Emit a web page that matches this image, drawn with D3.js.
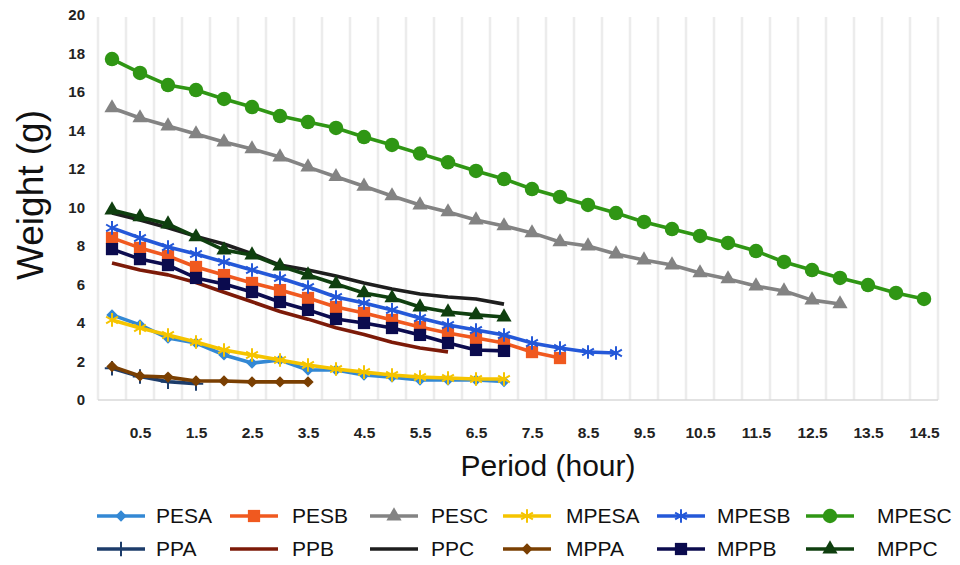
<!DOCTYPE html>
<html>
<head>
<meta charset="utf-8">
<title>Weight vs period</title>
<script src="https://cdn.jsdelivr.net/npm/d3@7"></script>
<style>
  body { margin: 0; background: #fff; }
  svg { display: block; }
  .tick text { font-family: "Liberation Sans Narrow", "Arial Narrow", "Liberation Sans", Arial, sans-serif; font-weight: bold; fill: #222; }
  .leg text { font-family: "Liberation Sans Narrow", "Arial Narrow", "Liberation Sans", Arial, sans-serif; font-size: 21px; fill: #111; }
</style>
</head>
<body>
<script>
// period categories (hours)
const periods = [0, 0.5, 1, 1.5, 2, 2.5, 3, 3.5, 4, 4.5, 5, 5.5, 6, 6.5, 7, 7.5, 8, 8.5, 9, 9.5,
                 10, 10.5, 11, 11.5, 12, 12.5, 13, 13.5, 14, 14.5];
const xTicks = [0.5, 1.5, 2.5, 3.5, 4.5, 5.5, 6.5, 7.5, 8.5, 9.5, 10.5, 11.5, 12.5, 13.5, 14.5];
const yTicks = [0, 2, 4, 6, 8, 10, 12, 14, 16, 18, 20];

// weights (g), one value per period
const PESA  = [4.42, 3.9, 3.22, 2.96, 2.34, 1.92, 2.08, 1.56, 1.56, 1.3, 1.19, 1.04, 1.04, 1.04, 0.96];
const PESB  = [8.42, 7.9, 7.48, 6.91, 6.49, 6.08, 5.71, 5.3, 4.83, 4.52, 4.16, 3.79, 3.48, 3.22, 2.96, 2.49, 2.18];
const PESC  = [15.17, 14.65, 14.23, 13.82, 13.4, 13.04, 12.62, 12.1, 11.6, 11.1, 10.6, 10.13, 9.77, 9.35, 9.04,
               8.68, 8.21, 8.0, 7.58, 7.27, 7.01, 6.6, 6.29, 5.92, 5.66, 5.19, 4.99];
const MPESA = [4.16, 3.74, 3.38, 3.01, 2.6, 2.34, 2.08, 1.82, 1.61, 1.45, 1.3, 1.19, 1.14, 1.09, 1.09];
const MPESB = [8.94, 8.42, 7.95, 7.58, 7.17, 6.75, 6.34, 5.87, 5.35, 5.04, 4.68, 4.26, 3.9, 3.64, 3.38, 2.96, 2.7, 2.49, 2.44];
const MPESC = [17.71, 16.99, 16.36, 16.1, 15.64, 15.22, 14.75, 14.44, 14.13, 13.66, 13.25, 12.8, 12.35, 11.9, 11.48,
               10.96, 10.55, 10.13, 9.71, 9.25, 8.88, 8.52, 8.16, 7.74, 7.17, 6.75, 6.34, 5.97, 5.56, 5.25];
const PPA   = [1.65, 1.22, 0.95, 0.85];
const PPB   = [7.12, 6.75, 6.5, 6.1, 5.6, 5.1, 4.6, 4.2, 3.75, 3.4, 3.0, 2.7, 2.5];
const PPC   = [9.71, 9.35, 8.95, 8.5, 8.1, 7.6, 7.01, 6.75, 6.44, 6.08, 5.77, 5.51, 5.35, 5.25, 4.98];
const MPPA  = [1.74, 1.25, 1.19, 0.99, 0.99, 0.94, 0.94, 0.94];
const MPPB  = [7.84, 7.32, 7.01, 6.34, 6.03, 5.61, 5.09, 4.68, 4.21, 4.0, 3.74, 3.38, 2.96, 2.6, 2.55];
const MPPC  = [9.87, 9.51, 9.14, 8.47, 7.79, 7.53, 6.96, 6.49, 6.03, 5.56, 5.3, 4.83, 4.57, 4.42, 4.31];

const seriesNames = ["PESA", "PESB", "PESC", "MPESA", "MPESB", "MPESC", "PPA", "PPB", "PPC", "MPPA", "MPPB", "MPPC"];
const seriesValues = [PESA, PESB, PESC, MPESA, MPESB, MPESC, PPA, PPB, PPC, MPPA, MPPB, MPPC];
const seriesColors = ["#3388d4", "#f0591f", "#838383", "#f5c400", "#2458d8", "#2f9614",
                      "#1d3c6a", "#7c1a08", "#1e1e1e", "#7a3f02", "#0b0b4e", "#0f3f0f"];
const seriesMarkers = ["diamond", "square", "triangle", "asterisk", "asterisk", "circle",
                       "plus", "none", "none", "diamond", "square", "triangle"];

const width = 960, height = 565;

const x = d3.scaleLinear().domain([0, 14.5]).range([112, 924]);
const y = d3.scaleLinear().domain([0, 20]).range([400, 15]);

const svg = d3.select("body").append("svg")
    .attr("width", width)
    .attr("height", height);

// vertical gridlines between categories
const step = periods[1] - periods[0];
const gridPos = periods.map(p => p - step / 2).concat([periods[periods.length - 1] + step / 2]);
svg.append("g").selectAll("line")
    .data(gridPos)
    .enter().append("line")
    .attr("x1", d => x(d)).attr("x2", d => x(d))
    .attr("y1", y(19.9)).attr("y2", y(0))
    .attr("stroke", "#ececec")
    .attr("stroke-width", 2.5);

svg.append("line")
    .attr("x1", x(gridPos[0])).attr("x2", x(gridPos[gridPos.length - 1]))
    .attr("y1", y(0)).attr("y2", y(0))
    .attr("stroke", "#d9d9d9")
    .attr("stroke-width", 1.5);

// axes
const yAxis = d3.axisLeft(y).tickValues(yTicks).tickSize(0).tickPadding(5).tickFormat(d3.format("d"));
svg.append("g")
    .attr("transform", "translate(90,0)")
    .call(yAxis)
    .call(g => g.select(".domain").remove())
    .selectAll("text").attr("font-size", 15);

const xAxis = d3.axisBottom(x).tickValues(xTicks).tickSize(0).tickPadding(27).tickFormat(d3.format(".1f"));
svg.append("g")
    .attr("transform", "translate(0," + y(0) + ")")
    .call(xAxis)
    .call(g => g.select(".domain").remove())
    .selectAll("text").attr("font-size", 15.5);

svg.append("text")
    .attr("x", 548).attr("y", 476)
    .attr("text-anchor", "middle")
    .attr("font-family", "'Liberation Sans Narrow', 'Arial Narrow', 'Liberation Sans', Arial, sans-serif")
    .attr("font-size", 30)
    .attr("fill", "#111")
    .text("Period (hour)");

svg.append("text")
    .attr("transform", "translate(43,195) rotate(-90)")
    .attr("text-anchor", "middle")
    .attr("font-family", "'Liberation Sans', Arial, sans-serif")
    .attr("font-size", 37)
    .attr("fill", "#111")
    .text("Weight (g)");

// marker drawing
function marker(sel, type, color) {
  if (type === "none") return;
  let gen;
  let filled = true;
  if (type === "circle") gen = d3.symbol(d3.symbolCircle, 165);
  else if (type === "square") gen = d3.symbol(d3.symbolSquare, 150);
  else if (type === "triangle") gen = d3.symbol(d3.symbolTriangle, 100);
  else if (type === "diamond") gen = d3.symbol(d3.symbolSquare, 64);
  else if (type === "asterisk") { gen = d3.symbol(d3.symbolAsterisk, 130); filled = false; }
  else if (type === "plus") { gen = d3.symbol(d3.symbolPlus, 70); filled = false; }
  const p = sel.append("path").attr("d", gen());
  if (type === "diamond") p.attr("transform", "rotate(45)");
  if (filled) p.attr("fill", color);
  else p.attr("fill", "none").attr("stroke", color).attr("stroke-width", 2);
}

const line = d3.line()
    .x((d, i) => x(periods[i]))
    .y(d => y(d));

seriesValues.forEach(function(vals, k) {
  const g = svg.append("g");
  g.append("path")
      .datum(vals)
      .attr("d", line)
      .attr("fill", "none")
      .attr("stroke", seriesColors[k])
      .attr("stroke-width", 3.6)
      .attr("stroke-linejoin", "round");
  g.selectAll("g.pt")
      .data(vals)
      .enter().append("g")
      .attr("class", "pt")
      .attr("transform", (d, i) => "translate(" + x(periods[i]) + "," + y(d) + ")")
      .each(function() { marker(d3.select(this), seriesMarkers[k], seriesColors[k]); });
});

// legend
const legX = [97, 230, 370, 503, 657, 806];
const legTextX = [156, 292, 431, 566, 717, 877];
const legY = [516, 549];
const leg = svg.append("g").attr("class", "leg");
seriesNames.forEach(function(name, k) {
  const col = k % 6, row = Math.floor(k / 6);
  const item = leg.append("g").attr("transform", "translate(" + legX[col] + "," + legY[row] + ")");
  item.append("line")
      .attr("x1", 0).attr("x2", 48)
      .attr("stroke", seriesColors[k])
      .attr("stroke-width", 3.6);
  const m = item.append("g").attr("transform", "translate(24,0)");
  marker(m, seriesMarkers[k], seriesColors[k]);
  leg.append("text")
      .attr("x", legTextX[col])
      .attr("y", legY[row])
      .attr("dy", "0.35em")
      .text(name);
});
</script>
</body>
</html>
